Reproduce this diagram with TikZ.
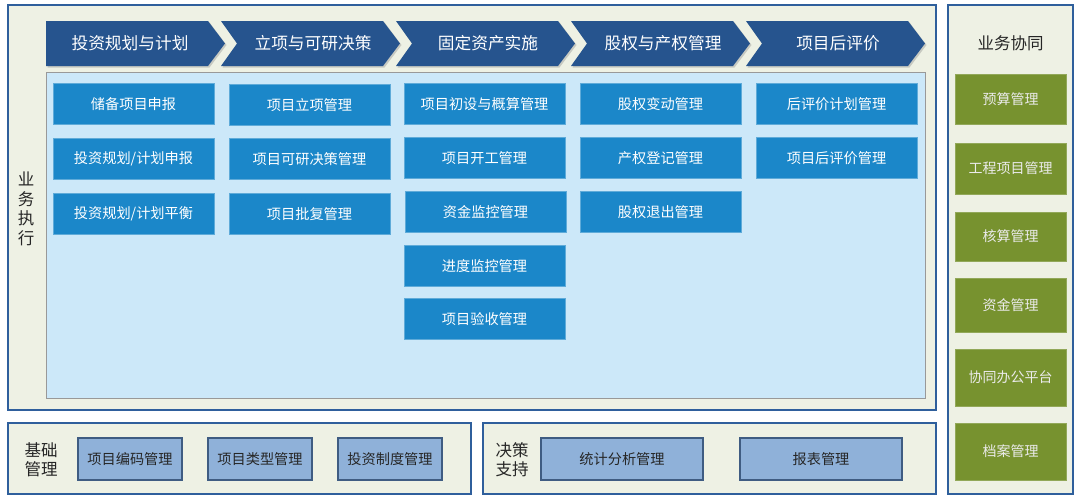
\documentclass[tikz,border=0pt]{standalone}
\usepackage{fontspec}
\setmainfont{Noto Sans CJK SC}
\usetikzlibrary{shadows}
\definecolor{frameblue}{HTML}{2F5F9C}
\definecolor{framefill}{HTML}{EEF1E4}
\definecolor{chevfill}{HTML}{26548E}
\definecolor{boxblue}{HTML}{1B87C9}
\definecolor{panelblue}{HTML}{CCE8F9}
\definecolor{greenbox}{HTML}{77922F}
\definecolor{lightbox}{HTML}{8FB1D9}
\definecolor{lightboxborder}{HTML}{3F5C82}
\begin{document}
\begin{tikzpicture}[x=1pt,y=-1pt,
  frame/.style={draw=frameblue,line width=2.6pt,fill=framefill},
  chev/.style={fill=chevfill,drop shadow={shadow xshift=1.5pt,shadow yshift=-1.5pt,opacity=0.35}},
  chevtext/.style={text=white,font=\fontsize{16.7}{18}\selectfont,inner sep=0pt},
  bbox/.style={fill=boxblue,draw=boxblue!70!white,line width=0.6pt,minimum width=161pt,minimum height=41pt,inner sep=0pt,text=white,font=\fontsize{14.2}{15}\selectfont},
  gbox/.style={fill=greenbox,draw=greenbox!80!white,line width=0.6pt,minimum width=111pt,inner sep=0pt,text=white!92!black,font=\fontsize{14}{15}\selectfont},
  lbox/.style={fill=lightbox,draw=lightboxborder,line width=1.2pt,minimum height=42pt,inner sep=0pt,text=black!85,font=\fontsize{14.2}{15}\selectfont},
  lab/.style={text=black!85,font=\fontsize{16.5}{19}\selectfont,inner sep=0pt,align=center}]
\useasboundingbox (0,0) rectangle (1080,501);
\fill[white] (0,0) rectangle (1080,501);
% frames
\draw[frame] (8,5) rectangle (936,410);
\draw[frame] (948,5) rectangle (1073,494);
\draw[frame] (8,423) rectangle (471,494);
\draw[frame] (483,423) rectangle (936,494);
% panel
\draw[fill=panelblue,draw=black!40,line width=0.8pt] (46,72) rectangle (925,398);
% chevrons
\fill[chev] (46,21) -- (208,21) -- (225,43.5) -- (208,66) -- (46,66) -- cycle;
\foreach \L in {221,396,571,746}{
  \fill[chev] (\L,21) -- (\L+162,21) -- (\L+179,43.5) -- (\L+162,66) -- (\L,66) -- (\L+16,43.5) -- cycle;
}
\node[chevtext] (c1) at (130,43.5) {投资规划与计划};
\node[chevtext] (c2) at (313,43.5) {立项与可研决策};
\node[chevtext] (c3) at (488,43.5) {固定资产实施};
\node[chevtext] (c4) at (663,43.5) {股权与产权管理};
\node[chevtext] (c5) at (838,43.5) {项目后评价};
% side label
\node[lab,align=center,font=\fontsize{16.5}{19.5}\selectfont] (exec) at (26,209) {业\\务\\执\\行};
% column 1
\node[bbox] (a1) at (133.5,104) {储备项目申报};
\node[bbox] (a2) at (133.5,159) {投资规划/计划申报};
\node[bbox] (a3) at (133.5,214) {投资规划/计划平衡};
% column 2
\node[bbox] (b1) at (309.5,105) {项目立项管理};
\node[bbox] (b2) at (309.5,159) {项目可研决策管理};
\node[bbox] (b3) at (309.5,214) {项目批复管理};
% column 3
\node[bbox] (d1) at (484.5,104) {项目初设与概算管理};
\node[bbox] (d2) at (484.5,158) {项目开工管理};
\node[bbox] (d3) at (485.5,212) {资金监控管理};
\node[bbox] (d4) at (484.5,266) {进度监控管理};
\node[bbox] (d5) at (484.5,319) {项目验收管理};
% column 4
\node[bbox] (e1) at (660.5,104) {股权变动管理};
\node[bbox] (e2) at (660.5,158) {产权登记管理};
\node[bbox] (e3) at (660.5,212) {股权退出管理};
% column 5
\node[bbox] (f1) at (836.5,104) {后评价计划管理};
\node[bbox] (f2) at (836.5,158) {项目后评价管理};
% right column
\node[lab] (xt) at (1010.5,43) {业务协同};
\node[gbox,minimum height=50pt] (g1) at (1010.5,99) {预算管理};
\node[gbox,minimum height=51pt] (g2) at (1010.5,168.5) {工程项目管理};
\node[gbox,minimum height=49pt] (g3) at (1010.5,236.5) {核算管理};
\node[gbox,minimum height=54pt] (g4) at (1010.5,305) {资金管理};
\node[gbox,minimum height=57pt] (g5) at (1010.5,377.5) {协同办公平台};
\node[gbox,minimum height=57pt] (g6) at (1010.5,451.5) {档案管理};
% bottom left
\node[lab] (jc) at (41,460) {基础\\管理};
\node[lbox,minimum width=104pt] (h1) at (130,459) {项目编码管理};
\node[lbox,minimum width=104pt] (h2) at (260,459) {项目类型管理};
\node[lbox,minimum width=104pt] (h3) at (390,459) {投资制度管理};
% bottom middle
\node[lab] (jz) at (512,460) {决策\\支持};
\node[lbox,minimum width=162pt] (k1) at (622,459) {统计分析管理};
\node[lbox,minimum width=162pt] (k2) at (821,459) {报表管理};
\end{tikzpicture}
\end{document}
